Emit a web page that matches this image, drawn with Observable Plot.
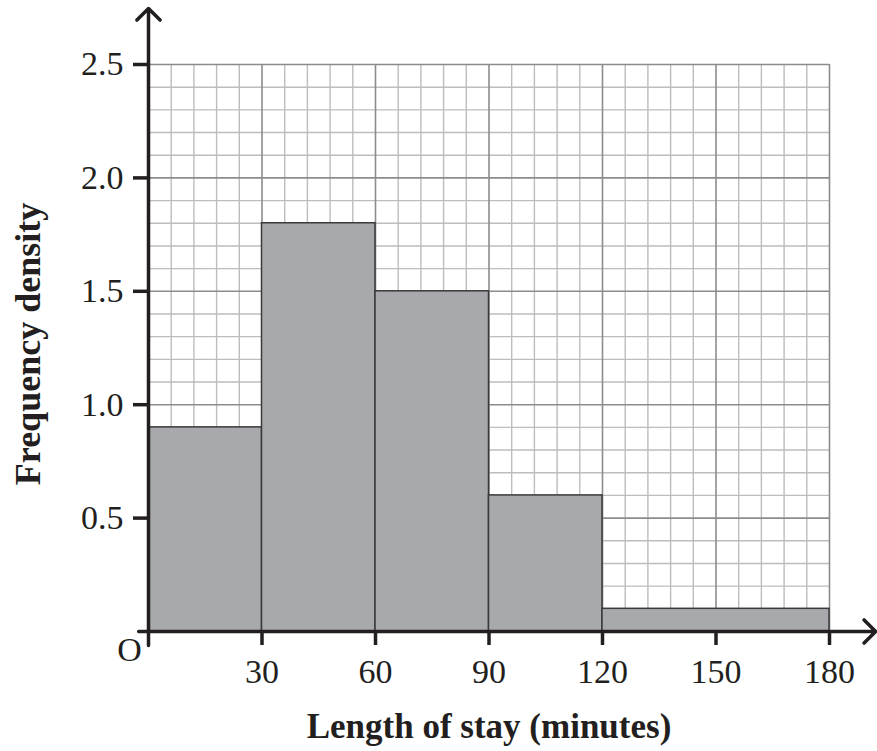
<!DOCTYPE html>
<html>
<head>
<meta charset="utf-8">
<script src="https://cdn.jsdelivr.net/npm/d3@7"></script>
<script src="https://cdn.jsdelivr.net/npm/@observablehq/plot@0.6"></script>
<style>
  html, body { margin: 0; padding: 0; background: #fff; }
  #chart svg { display: block; }
</style>
</head>
<body>
<div id="chart"></div>
<script>
// Histogram classes (minutes) and frequency densities
const classStart = [0, 30, 60, 90, 120];
const classEnd = [30, 60, 90, 120, 180];
const density = [0.9, 1.8, 1.5, 0.6, 0.1];

// Tick labels
const xTicks = [30, 60, 90, 120, 150, 180];
const yTicks = [0.5, 1.0, 1.5, 2.0, 2.5];

// Grid lines
const xMajorGrid = [0, 30, 60, 90, 120, 150, 180];
const xMinorGrid = [6, 12, 18, 24, 36, 42, 48, 54, 66, 72, 78, 84, 96, 102, 108, 114, 126, 132, 138, 144, 156, 162, 168, 174];
const yMajorGrid = [0, 0.5, 1.0, 1.5, 2.0, 2.5];
const yMinorGrid = [0.1, 0.2, 0.3, 0.4, 0.6, 0.7, 0.8, 0.9, 1.1, 1.2, 1.3, 1.4, 1.6, 1.7, 1.8, 1.9, 2.1, 2.2, 2.3, 2.4];

const xLabel = "Length of stay (minutes)";
const yLabel = "Frequency density";

const bars = classStart.map((s, i) => ({x1: s, x2: classEnd[i], y: density[i]}));

const ink = "#231f20";
const font = "'Liberation Serif', 'Times New Roman', serif";

const chart = Plot.plot({
  width: 877,
  height: 751,
  marginLeft: 148,
  marginRight: 48,
  marginTop: 64,
  marginBottom: 120,
  style: {fontFamily: font, background: "#fff"},
  x: {domain: [0, 180]},
  y: {domain: [0, 2.5]},
  marks: [
    Plot.ruleX(xMinorGrid, {y1: 0, y2: 2.5, stroke: "#bdbdbd", strokeWidth: 1.4}),
    Plot.ruleY(yMinorGrid, {x1: 0, x2: 180, stroke: "#bdbdbd", strokeWidth: 1.4}),
    Plot.ruleX(xMajorGrid, {y1: 0, y2: 2.5, stroke: "#8c8c8c", strokeWidth: 1.6}),
    Plot.ruleY(yMajorGrid, {x1: 0, x2: 180, stroke: "#8c8c8c", strokeWidth: 1.6}),
    Plot.rectY(bars, {x1: "x1", x2: "x2", y1: 0, y2: "y", fill: "#a7a9ac", stroke: "#3a3a3a", strokeWidth: 1.5}),
    Plot.arrow([{x1: 0, y1: -0.062, x2: 0, y2: 2.747}], {x1: "x1", y1: "y1", x2: "x2", y2: "y2", stroke: ink, strokeWidth: 3.5, headAngle: 90, headLength: 7, bend: 0}),
    Plot.arrow([{x1: -2.6, y1: 0, x2: 192.2, y2: 0}], {x1: "x1", y1: "y1", x2: "x2", y2: "y2", stroke: ink, strokeWidth: 3.5, headAngle: 90, headLength: 7, bend: 0}),
    Plot.axisX(xTicks, {tickSize: 14, tickPadding: 13, strokeWidth: 3.5, stroke: ink, fill: ink, fontSize: 34, label: null}),
    Plot.axisY(yTicks, {tickSize: 15, tickPadding: 10, strokeWidth: 3.5, stroke: ink, fill: ink, fontSize: 34, tickFormat: d => d.toFixed(1), label: null}),
    Plot.text(["O"], {x: 0, y: 0, dx: -19, dy: 19, fontSize: 34, fill: ink}),
    Plot.text([xLabel], {frameAnchor: "bottom", lineAnchor: "bottom", dy: 106, fontSize: 35, fontWeight: "bold", fill: ink}),
    Plot.text([yLabel], {frameAnchor: "left", textAnchor: "middle", rotate: -90, dx: -120, dy: -4, fontSize: 36, fontWeight: "bold", fill: ink})
  ]
});
document.getElementById("chart").appendChild(chart);
</script>
</body>
</html>
